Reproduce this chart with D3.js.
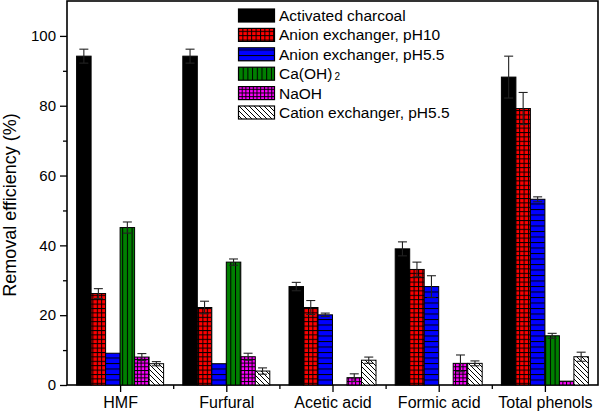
<!DOCTYPE html>
<html lang="en">
<head>
<meta charset="utf-8"/>
<script src="https://d3js.org/d3.v7.min.js"></script>
<title>Removal efficiency</title>
<style>
    body { margin: 0; background: #fff; }
    svg { display: block; font-family: "Liberation Sans", Arial, sans-serif; }
</style>
</head>
<body>
<svg width="600" height="414"></svg>
<script>
    // data
    const categories = ["HMF", "Furfural", "Acetic acid", "Formic acid", "Total phenols"];
    const seriesNames = ["Activated charcoal", "Anion exchanger, pH10", "Anion exchanger, pH5.5",
        "Ca(OH)2", "NaOH", "Cation exchanger, pH5.5"];
    const charcoal = [94.2, 94.2, 28.2, 39, 88.2];
    const charcoalErr = [2, 2, 1.2, 2, 6];
    const anion10 = [26.2, 22.2, 22.2, 33.1, 79.2];
    const anion10Err = [1.4, 1.8, 2, 2.1, 4.6];
    const anion55 = [9.1, 6.1, 20.1, 28.2, 53.2];
    const anion55Err = [0, 0, 0.5, 3.1, 0.7];
    const caoh = [45.1, 35.2, 0, 0, 14.1];
    const caohErr = [1.6, 0.9, 0, 0, 0.7];
    const naoh = [8, 8.1, 2.1, 6.2, 1.1];
    const naohErr = [1, 1, 1.1, 2.4, 0];
    const cation = [6.1, 4, 7.1, 6.2, 8.1];
    const cationErr = [0.6, 0.9, 0.9, 0.7, 1.3];
    const yTicks = [0, 20, 40, 60, 80, 100];

    const values = [charcoal, anion10, anion55, caoh, naoh, cation];
    const errors = [charcoalErr, anion10Err, anion55Err, caohErr, naohErr, cationErr];
    const fills = ["url(#pBlack)", "url(#pRed)", "url(#pBlue)", "url(#pGreen)", "url(#pMagenta)", "url(#pHatch)"];

    const svg = d3.select("svg");
    const plotLeft = 67, plotRight = 598, plotTop = 1, plotBottom = 385;

    const x = d3.scaleLinear().domain([0.5, categories.length + 0.5]).range([plotLeft, plotRight]);
    const inner = d3.scaleBand().domain(seriesNames).range([-43.5, 43.5]).paddingInner(0);
    const y = d3.scaleLinear().domain([0, 110]).range([plotBottom, plotTop]);

    // patterns
    const defs = svg.append("defs");
    function pattern(id, size, bg, lines) {
        const p = defs.append("pattern").attr("id", id)
            .attr("patternUnits", "userSpaceOnUse")
            .attr("width", size[0]).attr("height", size[1]);
        p.append("rect").attr("width", size[0]).attr("height", size[1]).attr("fill", bg);
        lines.forEach(l => p.append("line")
            .attr("x1", l[0]).attr("y1", l[1]).attr("x2", l[2]).attr("y2", l[3])
            .attr("stroke", "#000").attr("stroke-width", 1));
        return p;
    }
    pattern("pBlack", [4, 4], "#000", []);
    pattern("pRed", [4.4, 4.4], "#ff0000", [[0, 0.5, 4.4, 0.5], [0.5, 0, 0.5, 4.4]]);
    pattern("pBlue", [6, 5.5], "#0000ff", [[0, 0.5, 6, 0.5]]);
    pattern("pGreen", [4.7, 6], "#008000", [[0.5, 0, 0.5, 6]]);
    pattern("pMagenta", [3.7, 3.7], "#ff00ff", [[0, 0.5, 3.7, 0.5], [0.5, 0, 0.5, 3.7]]);
    pattern("pHatch", [5, 5], "#fff", [[0, 0, 5, 5], [-1, 4, 1, 6], [4, -1, 6, 1]]);

    // axes
    const yAxis = d3.axisLeft(y).tickValues(yTicks).tickSize(7).tickPadding(4).tickFormat(d3.format("d"));
    const gy = svg.append("g").attr("transform", `translate(${plotLeft},0)`).call(yAxis);
    gy.select(".domain").remove();
    gy.selectAll("text").attr("font-size", 15).attr("fill", "#000").attr("font-family", "Liberation Sans, Arial, sans-serif");
    svg.append("g").attr("transform", `translate(${plotLeft},0)`)
        .call(d3.axisLeft(y).tickValues([10, 30, 50, 70, 90]).tickSize(4).tickFormat(""))
        .select(".domain").remove();

    const gx = svg.append("g").attr("transform", `translate(0,${plotBottom})`)
        .call(d3.axisBottom(x).tickValues(d3.range(1, categories.length + 1)).tickSize(7).tickPadding(5)
            .tickFormat(d => categories[d - 1]));
    gx.select(".domain").remove();
    gx.selectAll("text").attr("font-size", 16).attr("fill", "#000").attr("font-family", "Liberation Sans, Arial, sans-serif");
    svg.append("g").attr("transform", `translate(0,${plotBottom})`)
        .call(d3.axisBottom(x).tickValues(d3.range(1.5, categories.length, 1)).tickSize(4).tickFormat(""))
        .select(".domain").remove();
    svg.selectAll(".tick line").attr("stroke", "#000").attr("stroke-width", 1.3);

    // frame
    svg.append("rect").attr("x", plotLeft).attr("y", plotTop)
        .attr("width", plotRight - plotLeft).attr("height", plotBottom - plotTop)
        .attr("fill", "none").attr("stroke", "#000").attr("stroke-width", 1.6);

    // bars
    const barData = [];
    seriesNames.forEach((s, si) => categories.forEach((c, ci) => {
        barData.push({ s, si, ci, v: values[si][ci], e: errors[si][ci] });
    }));
    svg.append("g").selectAll("rect").data(barData.filter(d => d.v > 0)).join("rect")
        .attr("x", d => x(d.ci + 1) + inner(d.s))
        .attr("y", d => y(d.v))
        .attr("width", inner.bandwidth())
        .attr("height", d => y(0) - y(d.v))
        .attr("fill", d => fills[d.si])
        .attr("stroke", "#000").attr("stroke-width", 1);

    // error bars
    const eb = svg.append("g").attr("stroke", "#222").attr("stroke-width", 1.1);
    barData.filter(d => d.v > 0 && d.e > 0).forEach(d => {
        const cx = x(d.ci + 1) + inner(d.s) + inner.bandwidth() / 2;
        eb.append("line").attr("x1", cx).attr("x2", cx).attr("y1", y(d.v - d.e)).attr("y2", y(d.v + d.e));
        [d.v - d.e, d.v + d.e].forEach(v => eb.append("line")
            .attr("x1", cx - 4.5).attr("x2", cx + 4.5).attr("y1", y(v)).attr("y2", y(v)));
    });

    // y title
    svg.append("text").attr("transform", "translate(16,205) rotate(-90)")
        .attr("text-anchor", "middle").attr("font-size", 18).text("Removal efficiency (%)");

    // legend
    const lg = svg.append("g").attr("transform", "translate(238,0)");
    const legendY = d3.scalePoint().domain(seriesNames).range([15.5, 112.5]);
    seriesNames.forEach((s, i) => {
        lg.append("rect").attr("x", 0.5).attr("y", legendY(s) - 6.5).attr("width", 36).attr("height", 13)
            .attr("fill", fills[i]).attr("stroke", "#000").attr("stroke-width", 1.2);
        const t = lg.append("text").attr("x", 41).attr("y", legendY(s) + 5.5).attr("font-size", 15.5);
        if (s === "Ca(OH)2") {
            t.append("tspan").text("Ca(OH)");
            t.append("tspan").attr("font-size", 10).attr("dx", 2).attr("dy", 1).text("2");
        } else {
            t.text(s);
        }
    });
</script>
</body>
</html>
